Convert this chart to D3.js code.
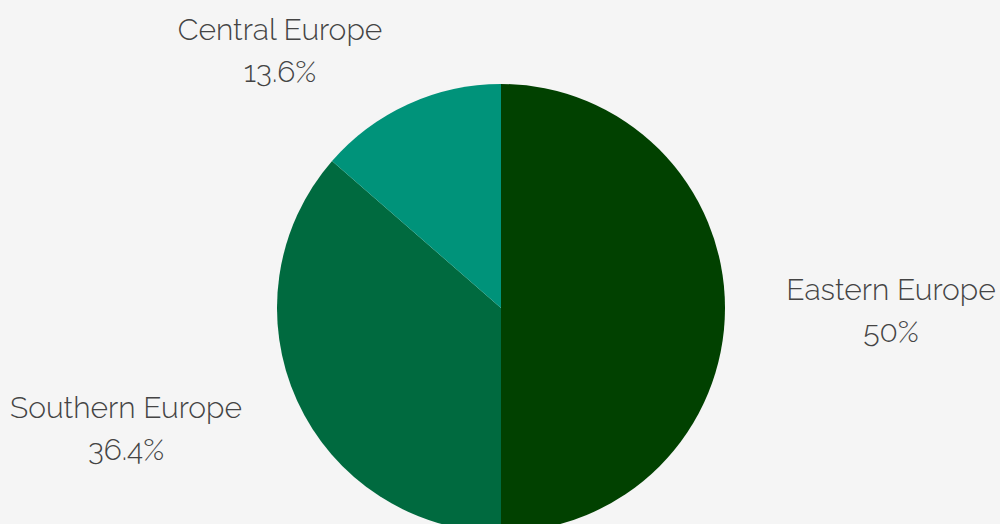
<!DOCTYPE html>
<meta charset="utf-8">
<html>
<head>
<script src="https://d3js.org/d3.v7.min.js"></script>
<style>
  body { margin: 0; background: #f5f5f5; }
  .lbl { font-family: Raleway, Lato, "Open Sans", sans-serif; font-size: 30px; font-weight: 300; fill: #444; }
</style>
</head>
<body>
<div id="chart"></div>
<script>
  // data
  var regions = ["Eastern Europe", "Southern Europe", "Central Europe"];
  var shares = [50, 36.4, 13.6];
  var colors = ["#014100", "#006a3f", "#00937a"];

  var width = 1000, height = 524;
  var cx = 501, cy = 308, radius = 224;

  // where each label block sits (anchor x, first baseline y)
  var labelPos = {
    "Eastern Europe":  { x: 891, y: 300, anchor: "middle" },
    "Southern Europe": { x: 126, y: 418, anchor: "middle" },
    "Central Europe":  { x: 280, y: 40,  anchor: "middle" }
  };

  var data = regions.map(function(r, i) { return { name: r, value: shares[i], color: colors[i] }; });

  var svg = d3.select("#chart").append("svg")
    .attr("width", width)
    .attr("height", height);

  var g = svg.append("g").attr("transform", "translate(" + cx + "," + cy + ")");

  var pie = d3.pie().sort(null).value(function(d) { return d.value; });
  var arc = d3.arc().innerRadius(0).outerRadius(radius);

  g.selectAll("path")
    .data(pie(data))
    .enter().append("path")
      .attr("d", arc)
      .attr("fill", function(d) { return d.data.color; });

  // labels
  var labels = svg.selectAll("text.lbl")
    .data(data)
    .enter().append("text")
      .attr("class", "lbl")
      .attr("text-anchor", function(d) { return labelPos[d.name].anchor; })
      .attr("x", function(d) { return labelPos[d.name].x; })
      .attr("y", function(d) { return labelPos[d.name].y; });

  labels.append("tspan")
    .attr("x", function(d) { return labelPos[d.name].x; })
    .text(function(d) { return d.name; });
  labels.append("tspan")
    .attr("x", function(d) { return labelPos[d.name].x; })
    .attr("dy", 42)
    .text(function(d) { return d.value + "%"; });
</script>
</body>
</html>
